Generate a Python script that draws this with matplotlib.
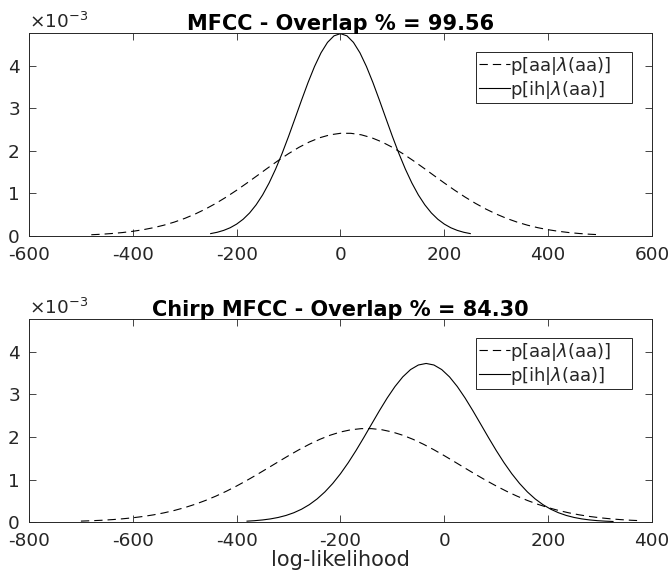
import numpy as np
import matplotlib
matplotlib.use("Agg")
import matplotlib.pyplot as plt
from matplotlib.patches import Rectangle
from matplotlib.transforms import IdentityTransform

# values in units of 1e-3
# top panel (MFCC)
mfcc_aa_x = np.arange(-480, 501, 20)
mfcc_aa_y = [0.0294, 0.0419, 0.0587, 0.0811, 0.1104, 0.1481, 0.1958, 0.2551, 0.3275, 0.4143,
             0.5165, 0.6344, 0.7679, 0.9160, 1.0767, 1.2471, 1.4233, 1.6009, 1.7742, 1.9378,
             2.0855, 2.2117, 2.3114, 2.3803, 2.4155,
             2.4155, 2.3803, 2.3114, 2.2117, 2.0855, 1.9378, 1.7742, 1.6009, 1.4233, 1.2471,
             1.0767, 0.9160, 0.7679, 0.6344, 0.5165, 0.4143, 0.3275, 0.2551, 0.1958, 0.1481,
             0.1104, 0.0811, 0.0587, 0.0419, 0.0294]

mfcc_ih_x = np.arange(-250, 250.1, 12.5)
mfcc_ih_y = [0.0568, 0.0874, 0.132, 0.194, 0.280, 0.394, 0.543, 0.733, 0.966, 1.247,
             1.573, 1.941, 2.343, 2.767, 3.195, 3.609, 3.987, 4.309, 4.554, 4.708,
             4.760,
             4.708, 4.554, 4.309, 3.987, 3.609, 3.195, 2.767, 2.343, 1.941, 1.573,
             1.247, 0.966, 0.733, 0.543, 0.394, 0.280, 0.194, 0.132, 0.0874, 0.0568]

# bottom panel (Chirp MFCC)
chirp_aa_x = np.arange(-700, 381, 20)
chirp_aa_y = [0.0217, 0.0302, 0.0415, 0.0564, 0.0755, 0.1001, 0.1309, 0.1691, 0.2159, 0.2723,
              0.3392, 0.4175, 0.5075, 0.6095, 0.7231, 0.8476, 0.9813, 1.1223, 1.2681, 1.4153,
              1.5606, 1.6998, 1.8290, 1.9442, 2.0415, 2.1176, 2.1700, 2.1967,
              2.1967, 2.1700, 2.1176, 2.0415, 1.9442, 1.8290, 1.6998, 1.5606, 1.4153, 1.2681,
              1.1223, 0.9813, 0.8476, 0.7231, 0.6095, 0.5075, 0.4175, 0.3392, 0.2723, 0.2159,
              0.1691, 0.1309, 0.1001, 0.0755, 0.0564, 0.0415, 0.0302]

chirp_ih_x = np.arange(-380, 326, 15)
chirp_ih_y = [0.0206, 0.0321, 0.0490, 0.0732, 0.1074, 0.1545, 0.2180, 0.3015, 0.4088, 0.5436,
              0.7088, 0.9061, 1.1359, 1.3963, 1.6829, 1.9888, 2.3047, 2.6187, 2.9176, 3.1874,
              3.4143, 3.5862, 3.6935, 3.730,
              3.6935, 3.5862, 3.4143, 3.1874, 2.9176, 2.6187, 2.3047, 1.9888, 1.6829, 1.3963,
              1.1359, 0.9061, 0.7088, 0.5436, 0.4088, 0.3015, 0.2180, 0.1545, 0.1074, 0.0732,
              0.0490, 0.0321, 0.0206, 0.0130]

titles = ["MFCC - Overlap % = 99.56", "Chirp MFCC - Overlap % = 84.30"]
legend_labels = [r"p[aa|$\lambda$(aa)]", r"p[ih|$\lambda$(aa)]"]
xlims = [(-600, 600), (-800, 400)]
ymax = 4.775

plt.rcParams['font.family'] = ['DejaVu Sans']
plt.rcParams['mathtext.fontset'] = 'dejavusans'
plt.rcParams['axes.unicode_minus'] = False

fig = plt.figure(figsize=(6.68, 5.81), dpi=100)
ax_top = fig.add_axes([0.0434, 0.5938, 0.9326, 0.3494])
ax_bot = fig.add_axes([0.0434, 0.1015, 0.9326, 0.3494])

panels = [
    (ax_top, mfcc_aa_x, mfcc_aa_y, mfcc_ih_x, mfcc_ih_y),
    (ax_bot, chirp_aa_x, chirp_aa_y, chirp_ih_x, chirp_ih_y),
]

axis_color = '#262626'
legends = []
for i, (ax, ax_x, ax_y, ih_x, ih_y) in enumerate(panels):
    ax.plot(ax_x, ax_y, color='black', lw=0.8, dashes=(7.5, 4.5), label=legend_labels[0])
    ax.plot(ih_x, ih_y, color='black', lw=0.8, label=legend_labels[1])
    ax.set_xlim(*xlims[i])
    ax.set_ylim(0, ymax)
    ax.set_yticks([0, 1, 2, 3, 4])
    ax.set_xticks(np.arange(xlims[i][0], xlims[i][1] + 1, 200))
    ax.tick_params(direction='in', top=True, right=True, length=5, width=0.6,
                   labelsize=13.3, colors=axis_color)
    ax.tick_params(axis='x', pad=7.5)
    ax.tick_params(axis='y', pad=6.5)
    for sp in ax.spines.values():
        sp.set_color(axis_color)
        sp.set_linewidth(0.7)
    ax.set_title(titles[i], fontsize=15, fontweight='bold', pad=2.5)
    ax.annotate(r"$\times10^{-3}$", xy=(0.0, 1.0), xycoords='axes fraction',
                xytext=(0, 3.5), textcoords='offset points', fontsize=13.3,
                color=axis_color, ha='left', va='baseline')
    # legend without frame; frame drawn below with extra room on the right like MATLAB
    leg = ax.legend(loc='upper right', bbox_to_anchor=(0.939, 0.906), fontsize=13,
                    handlelength=1.7, handletextpad=0.05, borderpad=0.15,
                    labelspacing=0.1, borderaxespad=0, frameon=False)
    for t in leg.get_texts():
        t.set_color(axis_color)
    legends.append(leg)

ax_bot.set_xlabel("log-likelihood", fontsize=15, color=axis_color, labelpad=0)

fig.canvas.draw()
for leg in legends:
    bb = leg.get_window_extent()
    fig.add_artist(Rectangle((bb.x0, bb.y0), bb.width + 18, bb.height,
                             transform=IdentityTransform(), fill=False,
                             edgecolor=axis_color, linewidth=0.7))

fig.savefig("out.png", dpi=100)
